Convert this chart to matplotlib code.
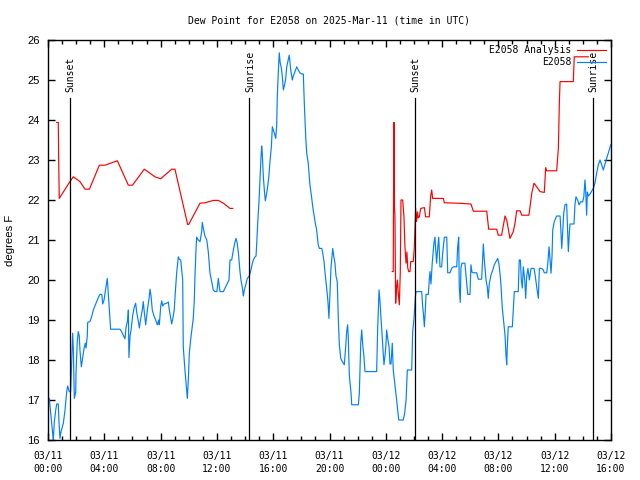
import matplotlib
matplotlib.use("Agg")
import matplotlib.pyplot as plt
import numpy as np

# hours since 03/11 00:00 UTC
red1_t = [0.62, 0.73, 0.76, 0.80, 1.56, 1.80, 2.27, 2.63, 2.94, 3.65, 4.05, 4.52, 4.93,
          5.71, 6.00, 6.84, 7.60, 8.00, 8.79, 9.02, 9.92, 10.00, 10.80, 11.15, 11.75,
          12.10, 12.46, 12.93, 13.12]
red1_v = [23.94, 23.94, 23.00, 22.04, 22.46, 22.58, 22.46, 22.27, 22.27, 22.87, 22.87,
          22.93, 22.98, 22.37, 22.37, 22.77, 22.58, 22.53, 22.77, 22.77, 21.39, 21.39,
          21.92, 21.93, 21.99, 21.99, 21.92, 21.79, 21.79]

red2_t = [24.46, 24.53, 24.55, 24.58, 24.62, 24.65, 24.70, 24.76, 24.82, 24.88, 24.96,
          25.03, 25.08, 25.20, 25.29, 25.36, 25.44, 25.50, 25.56, 25.63, 25.72, 25.77,
          25.95, 26.02, 26.12, 26.18, 26.25, 26.30, 26.38, 26.48, 26.74, 26.83, 27.09,
          27.19, 27.26, 27.33, 28.09, 28.16, 29.15, 30.05, 30.22, 31.17, 31.31, 31.88,
          31.99, 32.23, 32.47, 32.59, 32.82, 33.06, 33.18, 33.30, 33.54, 33.66, 34.17,
          34.37, 34.53, 34.72, 34.96, 35.26, 35.36, 35.43, 36.14, 36.26, 36.33, 36.38,
          37.32, 37.39, 38.39]
red2_v = [20.21, 20.21, 22.04, 23.94, 21.80, 21.58, 19.42, 19.80, 20.00, 19.70, 19.38,
          20.20, 22.00, 22.00, 21.58, 20.83, 20.42, 20.70, 20.30, 20.21, 20.21, 20.46,
          20.46, 20.77, 21.79, 21.46, 21.70, 21.55, 21.58, 21.79, 21.81, 21.58, 21.58,
          22.10, 22.25, 22.04, 22.04, 21.93, 21.92, 21.90, 21.72, 21.72, 21.27, 21.27,
          21.12, 21.12, 21.60, 21.50, 21.04, 21.21, 21.42, 21.73, 21.73, 21.62, 21.62,
          22.17, 22.42, 22.33, 22.21, 22.19, 22.81, 22.73, 22.73, 23.29, 24.42, 24.96,
          24.96, 25.58, 25.58]

blue_t = [0.09, 0.19, 0.26, 0.33, 0.38, 0.45, 0.55, 0.62, 0.73, 0.78, 0.85, 0.92, 1.09,
          1.21, 1.33, 1.40, 1.51, 1.61, 1.68, 1.75, 1.80, 1.87, 1.97, 1.99, 2.08, 2.15,
          2.22, 2.27, 2.37, 2.47, 2.56, 2.65, 2.70, 2.79, 2.82, 2.98, 3.10, 3.22, 3.34,
          3.46, 3.60, 3.69, 3.82, 3.89, 3.98, 4.10, 4.17, 4.21, 4.24, 4.33, 4.40, 4.45,
          5.12, 5.21, 5.35, 5.47, 5.54, 5.66, 5.71, 5.75, 5.83, 5.90, 6.02, 6.13, 6.23,
          6.30, 6.42, 6.49, 6.59, 6.70, 6.77, 6.84, 6.94, 7.06, 7.18, 7.25, 7.32, 7.41,
          7.53, 7.65, 7.77, 7.87, 7.91, 8.01, 8.08, 8.15, 8.24, 8.43, 8.55, 8.62, 8.74,
          8.79, 8.90, 8.97, 9.04, 9.14, 9.26, 9.33, 9.43, 9.57, 9.61, 9.73, 9.80, 9.90,
          9.97, 10.04, 10.16, 10.25, 10.32, 10.39, 10.44, 10.51, 10.56, 10.68, 10.80,
          10.92, 10.96, 11.03, 11.15, 11.28, 11.39, 11.51, 11.63, 11.74, 11.86, 12.00,
          12.10, 12.22, 12.46, 12.58, 12.72, 12.86, 12.93, 13.05, 13.17, 13.29, 13.36,
          13.43, 13.52, 13.59, 13.64, 13.71, 13.80, 13.88, 13.95, 14.05, 14.16, 14.30,
          14.42, 14.52, 14.59, 14.71, 14.78, 14.83, 14.90, 14.99, 15.06, 15.13, 15.18,
          15.22, 15.30, 15.37, 15.44, 15.54, 15.63, 15.70, 15.77, 15.87, 15.94, 16.01,
          16.08, 16.18, 16.25, 16.29, 16.36, 16.43, 16.50, 16.58, 16.65, 16.72, 16.82,
          16.89, 16.96, 17.07, 17.14, 17.19, 17.26, 17.36, 17.43, 17.55, 17.67, 17.78,
          17.90, 18.02, 18.14, 18.21, 18.31, 18.38, 18.49, 18.61, 18.74, 18.81, 18.90,
          18.99, 19.09, 19.13, 19.20, 19.28, 19.45, 19.52, 19.61, 19.70, 19.80, 19.89,
          19.96, 20.04, 20.11, 20.23, 20.30, 20.39, 20.46, 20.55, 20.63, 20.70, 20.80,
          20.91, 21.05, 21.15, 21.22, 21.29, 21.33, 21.41, 21.53, 21.58, 22.05, 22.12,
          22.22, 22.29, 22.36, 22.45, 22.52, 23.35, 23.42, 23.52, 23.59, 23.66, 23.78,
          23.87, 23.94, 24.01, 24.06, 24.13, 24.23, 24.30, 24.37, 24.46, 24.53, 24.65,
          24.77, 24.87, 24.92, 25.24, 25.34, 25.44, 25.53, 25.84, 25.91, 26.00, 26.10,
          26.15, 26.36, 26.55, 26.62, 26.67, 26.74, 26.81, 26.86, 27.02, 27.09, 27.14,
          27.21, 27.30, 27.42, 27.49, 27.56, 27.61, 27.69, 27.76, 27.85, 27.97, 28.04,
          28.16, 28.33, 28.40, 28.56, 28.68, 28.80, 29.04, 29.11, 29.18, 29.22, 29.29,
          29.34, 29.41, 29.62, 29.82, 29.98, 30.05, 30.12, 30.22, 30.46, 30.57, 30.81,
          30.93, 31.00, 31.12, 31.21, 31.28, 31.35, 31.47, 31.60, 31.71, 31.83, 31.95,
          32.04, 32.16, 32.28, 32.40, 32.47, 32.54, 32.59, 32.63, 32.70, 32.99, 33.06,
          33.13, 33.41, 33.48, 33.56, 33.63, 33.70, 33.77, 33.87, 33.94, 34.01, 34.10,
          34.20, 34.32, 34.53, 34.62, 34.72, 34.84, 34.91, 35.08, 35.19, 35.26, 35.43,
          35.50, 35.60, 35.67, 35.74, 35.81, 35.86, 35.97, 36.14, 36.38, 36.43, 36.50,
          36.57, 36.64, 36.73, 36.85, 36.97, 37.04, 37.09, 37.37, 37.44, 37.51, 37.63,
          37.73, 37.86, 37.98, 38.07, 38.15, 38.20, 38.27, 38.32, 38.39, 38.51, 38.74,
          38.86, 38.98, 39.10, 39.22, 39.34, 39.45, 39.57, 39.69, 39.84, 39.98]
blue_v = [17.04, 16.67, 16.42, 16.17, 16.00, 16.46, 16.75, 16.90, 16.90, 16.46, 16.04,
          16.20, 16.42, 16.75, 17.21, 17.35, 17.21, 17.21, 17.92, 18.67, 18.28, 17.04,
          17.20, 17.67, 18.46, 18.71, 18.60, 18.25, 17.83, 18.08, 18.29, 18.42, 18.30,
          18.60, 18.94, 18.96, 19.08, 19.25, 19.36, 19.46, 19.58, 19.64, 19.64, 19.40,
          19.50, 19.79, 19.96, 20.04, 19.90, 19.40, 19.00, 18.77, 18.77, 18.72, 18.62,
          18.53, 18.80, 19.00, 19.25, 18.06, 18.60, 18.75, 19.12, 19.32, 19.42, 19.20,
          18.96, 18.80, 19.04, 19.25, 19.46, 19.20, 18.88, 19.25, 19.54, 19.77, 19.60,
          19.25, 19.10, 19.00, 18.88, 19.00, 18.88, 19.35, 19.48, 19.35, 19.40, 19.42,
          19.45, 19.25, 19.00, 18.90, 19.10, 19.25, 19.67, 20.17, 20.58, 20.52, 20.50,
          20.00, 18.33, 17.75, 17.46, 17.04, 17.50, 18.17, 18.58, 18.83, 19.04, 19.46,
          20.08, 20.71, 21.07, 21.00, 20.96, 21.21, 21.44, 21.30, 21.10, 21.00, 20.70,
          20.17, 19.96, 19.75, 19.71, 19.71, 20.04, 19.71, 19.71, 19.80, 19.90, 20.00,
          20.50, 20.50, 20.75, 20.96, 21.04, 20.95, 20.71, 20.40, 20.21, 20.00, 19.83,
          19.60, 19.75, 19.88, 20.04, 20.10, 20.25, 20.42, 20.50, 20.58, 20.60, 20.92,
          21.42, 21.96, 22.50, 23.04, 23.35, 23.20, 22.58, 22.25, 21.98, 22.17, 22.40,
          22.62, 22.96, 23.33, 23.83, 23.75, 23.67, 23.54, 23.88, 24.58, 25.17, 25.68,
          25.42, 25.30, 25.08, 24.75, 24.90, 25.04, 25.33, 25.50, 25.62, 25.45, 25.21,
          25.00, 25.10, 25.21, 25.33, 25.25, 25.18, 25.15, 25.15, 24.42, 23.58, 23.17,
          22.92, 22.38, 22.04, 21.83, 21.62, 21.42, 21.25, 21.10, 20.88, 20.79, 20.79,
          20.67, 20.46, 20.12, 19.79, 19.46, 19.04, 19.75, 20.33, 20.79, 20.60, 20.42,
          20.10, 19.96, 19.00, 18.38, 18.04, 17.96, 17.88, 18.33, 18.71, 18.88, 18.60,
          17.62, 17.17, 16.88, 16.88, 17.17, 18.42, 18.75, 18.38, 18.08, 17.71, 17.71,
          18.75, 19.75, 19.46, 19.04, 18.38, 17.88, 18.10, 18.38, 18.75, 18.55, 18.33,
          17.90, 17.90, 18.42, 17.75, 17.38, 17.00, 16.67, 16.50, 16.50, 16.67, 17.00,
          17.75, 17.75, 18.71, 19.02, 19.58, 19.71, 19.71, 19.71, 19.33, 19.17, 18.83,
          19.25, 19.64, 19.64, 20.00, 20.21, 19.90, 20.43, 20.93, 21.07, 20.70, 20.42,
          20.80, 21.07, 20.33, 20.33, 20.67, 21.07, 21.07, 20.18, 20.18, 20.29, 20.33,
          20.33, 20.83, 21.07, 19.83, 19.44, 20.30, 20.42, 20.42, 19.64, 19.64, 20.38,
          20.20, 20.18, 20.18, 20.02, 20.02, 20.90, 20.50, 20.00, 19.83, 19.54, 19.90,
          20.12, 20.25, 20.38, 20.46, 20.54, 20.40, 20.00, 19.29, 18.88, 18.62, 18.12,
          17.88, 18.30, 18.83, 18.83, 19.29, 19.71, 19.71, 20.50, 20.50, 20.00, 19.80,
          20.33, 20.00, 19.54, 20.10, 20.29, 20.00, 20.29, 20.29, 20.10, 19.83, 19.54,
          20.29, 20.29, 20.25, 20.18, 20.18, 20.38, 20.83, 20.50, 20.17, 20.60, 21.25,
          21.46, 21.60, 21.60, 21.30, 20.79, 21.20, 21.67, 21.88, 21.90, 20.71, 21.17,
          21.40, 21.40, 21.88, 22.08, 22.00, 21.88, 21.96, 21.95, 22.08, 22.50, 22.25,
          21.62, 22.20, 22.10, 22.15, 22.29, 22.42, 22.67, 22.88, 23.00, 22.88, 22.75,
          22.90, 23.04, 23.21, 23.38]

sun_t = [1.56, 14.30, 26.07, 38.73]
sun_labels = ["Sunset", "Sunrise", "Sunset", "Sunrise"]

x_ticks = [0, 4, 8, 12, 16, 20, 24, 28, 32, 36, 40]
x_tick_labels = ["03/11\n00:00", "03/11\n04:00", "03/11\n08:00", "03/11\n12:00",
                 "03/11\n16:00", "03/11\n20:00", "03/12\n00:00", "03/12\n04:00",
                 "03/12\n08:00", "03/12\n12:00", "03/12\n16:00"]

MONO = "DejaVu Sans Mono"
SANS = "Liberation Sans"
RED = "#ff0000"
BLUE = "#0080ff"

fig = plt.figure(figsize=(6.4, 4.8), dpi=100)
ax = fig.add_axes([48 / 640, 40 / 480, 563 / 640, 400 / 480])

ax.plot(red1_t, red1_v, color=RED, lw=0.85, label="E2058 Analysis")
ax.plot(red2_t, red2_v, color=RED, lw=0.85)
ax.plot(blue_t, blue_v, color=BLUE, lw=0.85, label="E2058")

for t, lab in zip(sun_t, sun_labels):
    ax.plot([t, t], [16, 24.55], color="black", lw=0.9)
    ax.text(t + 0.05, 24.7, lab, rotation=90, ha="center", va="bottom",
            family=MONO, fontsize=7)

ax.set_xlim(0, 40)
ax.set_ylim(16, 26)
ax.set_xticks(x_ticks)
ax.set_xticklabels(x_tick_labels, family=MONO, fontsize=7, linespacing=1.35)
ax.set_xticks(np.arange(0, 41, 1), minor=True)
ax.set_yticks(np.arange(16, 27, 1))
ax.set_yticklabels([str(v) for v in range(16, 27)], family=SANS, fontsize=8)

ax.tick_params(which="both", direction="in", top=True, right=True, width=1.0)
ax.tick_params(which="major", length=5)
ax.tick_params(which="minor", length=3)
ax.tick_params(axis="x", pad=8)
ax.tick_params(axis="y", pad=6)
for s in ax.spines.values():
    s.set_linewidth(1.0)

ax.set_title("Dew Point for E2058 on 2025-Mar-11 (time in UTC)",
             family=MONO, fontsize=7, pad=12)
ax.set_ylabel("degrees F", family=SANS, fontsize=8.2)
ax.yaxis.set_label_coords(-0.059, 0.5)

ax.legend(loc="upper right", frameon=False, markerfirst=False,
          prop={"family": MONO, "size": 7}, handlelength=2.9,
          handletextpad=0.6, labelspacing=0.2, borderaxespad=0.35,
          borderpad=0.2)

plt.savefig("out.png", dpi=100)
